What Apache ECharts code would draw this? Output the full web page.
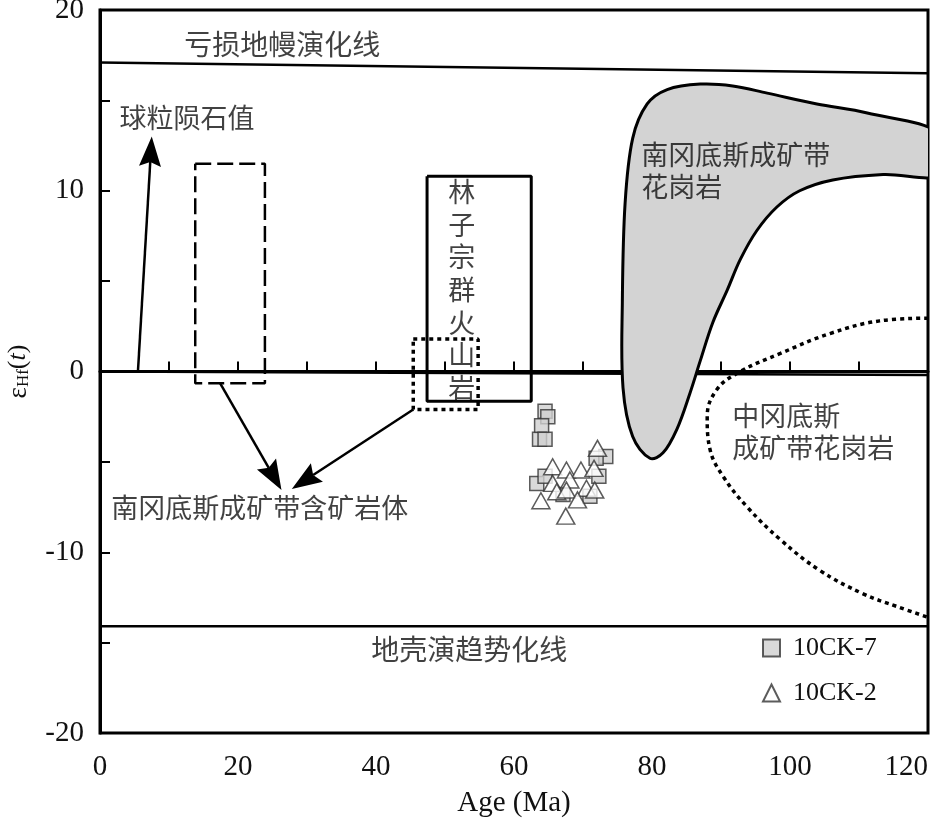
<!DOCTYPE html>
<html><head><meta charset="utf-8">
<script src="https://cdn.jsdelivr.net/npm/echarts@6/dist/echarts.min.js"></script>
<style>html,body{margin:0;padding:0;background:#fff}#c{width:945px;height:822px}</style>
</head><body><div id="c"></div><script>
// ---- data ----
const xRange = [0, 120];
const yRange = [-20, 20];
const xLabelStep = 20;
const yLabelStep = 10;
const sample7 = [[64.5,-2.2],[64.9,-2.5],[64.0,-3.0],[63.7,-3.75],[64.5,-3.75],[73.3,-4.7],[71.9,-4.8],[72.3,-5.8],[63.3,-6.2],[64.5,-5.8],[71.0,-6.9],[67.1,-6.8]];
const sample2 = [[72.1,-4.25],[65.6,-5.27],[67.6,-5.45],[69.7,-5.45],[71.6,-5.36],[68.1,-6.0],[65.6,-6.19],[70.5,-6.46],[71.7,-6.56],[66.2,-6.65],[67.6,-6.56],[63.9,-7.15],[69.2,-7.1],[67.5,-8.0]];
const depletedMantle = [[0,17.1],[120,16.5]];
const chur = [[0,0],[120,-0.2]];
const crustTrend = [[0,-14.1],[120,-14.1]];
const dashedBox = [[13.8,11.5],[23.9,11.5],[23.9,-0.65],[13.8,-0.65],[13.8,11.5]];
const linzizongBox = [[47.4,10.8],[62.5,10.8],[62.5,-1.65],[47.4,-1.65],[47.4,10.8]];
const dottedBox = [[45.4,1.8],[54.8,1.8],[54.8,-2.1],[45.4,-2.1],[45.4,1.8]];
const southGraniteField = [[79.7,-4.8],[77.2,-3.6],[75.8,-0.9],[75.7,3.8],[76.1,9.3],[77.2,12.9],[79.3,14.8],[82.2,15.6],[87.0,15.9],[91.7,15.8],[96.7,15.4],[103.9,14.8],[111.2,14.3],[122,13.1],
  [122,10.9],[113.5,10.9],[106.2,10.6],[101.4,10.0],[98.1,9.1],[95.2,7.8],[92.8,6.2],[90.9,4.5],[88.8,2.7],[87.0,0.6],[85.5,-1.2],[83.6,-3.2],[81.6,-4.5]];
const centralGraniteCurve = [[120,2.95],[113,2.8],[105.8,2.1],[98.6,1.0],[92.8,0],[89.4,-1.0],[88.0,-2.5],[88.4,-4.3],[90.3,-5.8],[93.8,-7.5],[98.6,-9.3],[104.3,-11.0],[110.6,-12.3],[115.5,-13.0],[120,-13.6]];
const arrows = [[5.5,0,7.5,13.0],[17.4,-0.65,26.3,-6.55],[45.4,-2.1,27.8,-6.5]];
const noteTexts = ['亏损地幔演化线','球粒陨石值','南冈底斯成矿带含矿岩体','南冈底斯成矿带\n花岗岩','中冈底斯\n成矿带花岗岩','地壳演趋势化线','林\n子\n宗\n群\n火\n山\n岩'];
const notePos = [[12.3,18.05],[2.9,14.0],[1.7,-7.55],[78.5,11.1],[91.7,-3.37],[39.4,-15.4],[52.5,4.5]];
const noteAlign = ['left','left','left','left','left','left','center'];
const noteSize = [28,27,27,27,27,28,27];
const legendNames = ['10CK-7','10CK-2'];

const CJK = '"Noto Sans CJK SC", sans-serif';
const SERIF = '"Liberation Serif", "DejaVu Serif", serif';

function lineSeries(data, type, width, smooth) {
  return {type:'line', data:data, showSymbol:false, symbol:'none', smooth:smooth||false, silent:true,
    lineStyle:{color:'#000', width:width, type:type, cap:'butt'}, z:3};
}

const chart = echarts.init(document.getElementById('c'));
chart.setOption({
  animation:false,
  backgroundColor:'#fff',
  grid:{left:100, right:17, top:10, bottom:89, show:true, borderColor:'#000', borderWidth:3, backgroundColor:'transparent',
    containLabel:false, outerBoundsMode:'none'},
  xAxis:{type:'value', min:xRange[0], max:xRange[1], interval:10,
    name:'Age (Ma)', nameLocation:'middle', nameGap:56,
    nameTextStyle:{fontFamily:SERIF, fontSize:29, color:'#111'},
    axisLine:{lineStyle:{color:'#000', width:3}},
    axisTick:{inside:true, length:10, lineStyle:{color:'#000', width:2}},
    axisLabel:{margin:20, fontFamily:SERIF, fontSize:29, color:'#111', hideOverlap:false, alignMaxLabel:'right',
      formatter:function(v){return v % xLabelStep === 0 ? String(v) : '';}},
    splitLine:{show:false}},
  yAxis:{type:'value', min:yRange[0], max:yRange[1], interval:5,
    name:'{e|ε}{s|Hf}{p|(}{t|t}{p|)}', nameLocation:'middle', nameGap:68, nameRotate:90,
    nameTextStyle:{rich:{
      e:{fontFamily:SERIF, fontSize:27, color:'#111'},
      s:{fontFamily:SERIF, fontSize:17, color:'#111', padding:[10,0,0,0]},
      p:{fontFamily:SERIF, fontSize:26, color:'#111'},
      t:{fontFamily:SERIF, fontSize:26, fontStyle:'italic', color:'#111'}}},
    axisLine:{lineStyle:{color:'#000', width:3}},
    axisTick:{inside:true, length:10, lineStyle:{color:'#000', width:2}},
    axisLabel:{margin:16, fontFamily:SERIF, fontSize:29, color:'#111', hideOverlap:false,
      formatter:function(v){return v % yLabelStep === 0 ? String(v) : '';}},
    splitLine:{show:false}},
  legend:{data:legendNames, orient:'vertical', left:757, top:630, itemGap:19, itemWidth:17, itemHeight:17,
    textStyle:{fontFamily:SERIF, fontSize:26, color:'#111', padding:[0,0,0,8]}, selectedMode:false},
  series:[
    lineSeries(chur,'solid',2.5),
    lineSeries(depletedMantle,'solid',2.5),
    lineSeries(crustTrend,'solid',2.5),
    {type:'custom', silent:true, clip:true, z:4, data:[southGraniteField[0]], encode:{x:0,y:1},
      renderItem:function(params, api){
        const pts = southGraniteField.map(p=>api.coord(p));
        return {type:'polygon', shape:{points:pts, smooth:0.35}, style:{fill:'#d3d3d3', stroke:'#000', lineWidth:3}};
      }},
    Object.assign(lineSeries(centralGraniteCurve,[4,4],3.5,0.4),{z:4}),
    lineSeries(dashedBox,[16,6],2.5),
    lineSeries(linzizongBox,'solid',3),
    lineSeries(dottedBox,[4,4],3.5),
    {type:'custom', silent:true, z:5, data:arrows, encode:{x:[0,2], y:[1,3]},
      renderItem:function(params, api){
        const a = api.coord([api.value(0), api.value(1)]);
        const b = api.coord([api.value(2), api.value(3)]);
        let dx=b[0]-a[0], dy=b[1]-a[1]; const len=Math.sqrt(dx*dx+dy*dy); dx/=len; dy/=len;
        const L=30, W=22; const nx=-dy, ny=dx;
        const bx=b[0]-dx*L, by=b[1]-dy*L;
        const mx=b[0]-dx*L*0.85, my=b[1]-dy*L*0.85;
        return {type:'group', children:[
          {type:'line', shape:{x1:a[0], y1:a[1], x2:mx, y2:my}, style:{stroke:'#000', lineWidth:2.5}},
          {type:'polygon', shape:{points:[[b[0],b[1]],[bx+nx*W/2,by+ny*W/2],[mx,my],[bx-nx*W/2,by-ny*W/2]]}, style:{fill:'#000'}}
        ]};
      }},
    {name:legendNames[0], type:'scatter', data:sample7, symbol:'rect', symbolSize:14, z:6,
      itemStyle:{color:'#cfcfcf', borderColor:'#333', borderWidth:1.5}},
    {name:legendNames[1], type:'scatter', data:sample2, symbol:'triangle', symbolSize:[18,16], z:7,
      itemStyle:{color:'#fff', borderColor:'#333', borderWidth:1.5}},
    {type:'scatter', silent:true, z:8, symbol:'circle', symbolSize:1, itemStyle:{color:'rgba(0,0,0,0)'},
      data:notePos.map((p,i)=>({value:p, label:{show:true, formatter:noteTexts[i], position:[0,0], align:noteAlign[i], verticalAlign:'middle',
        fontFamily:CJK, fontSize:noteSize[i], lineHeight: i===6 ? 32.7 : 32, color:'#111'}}))}
  ]
});
</script></body></html>
